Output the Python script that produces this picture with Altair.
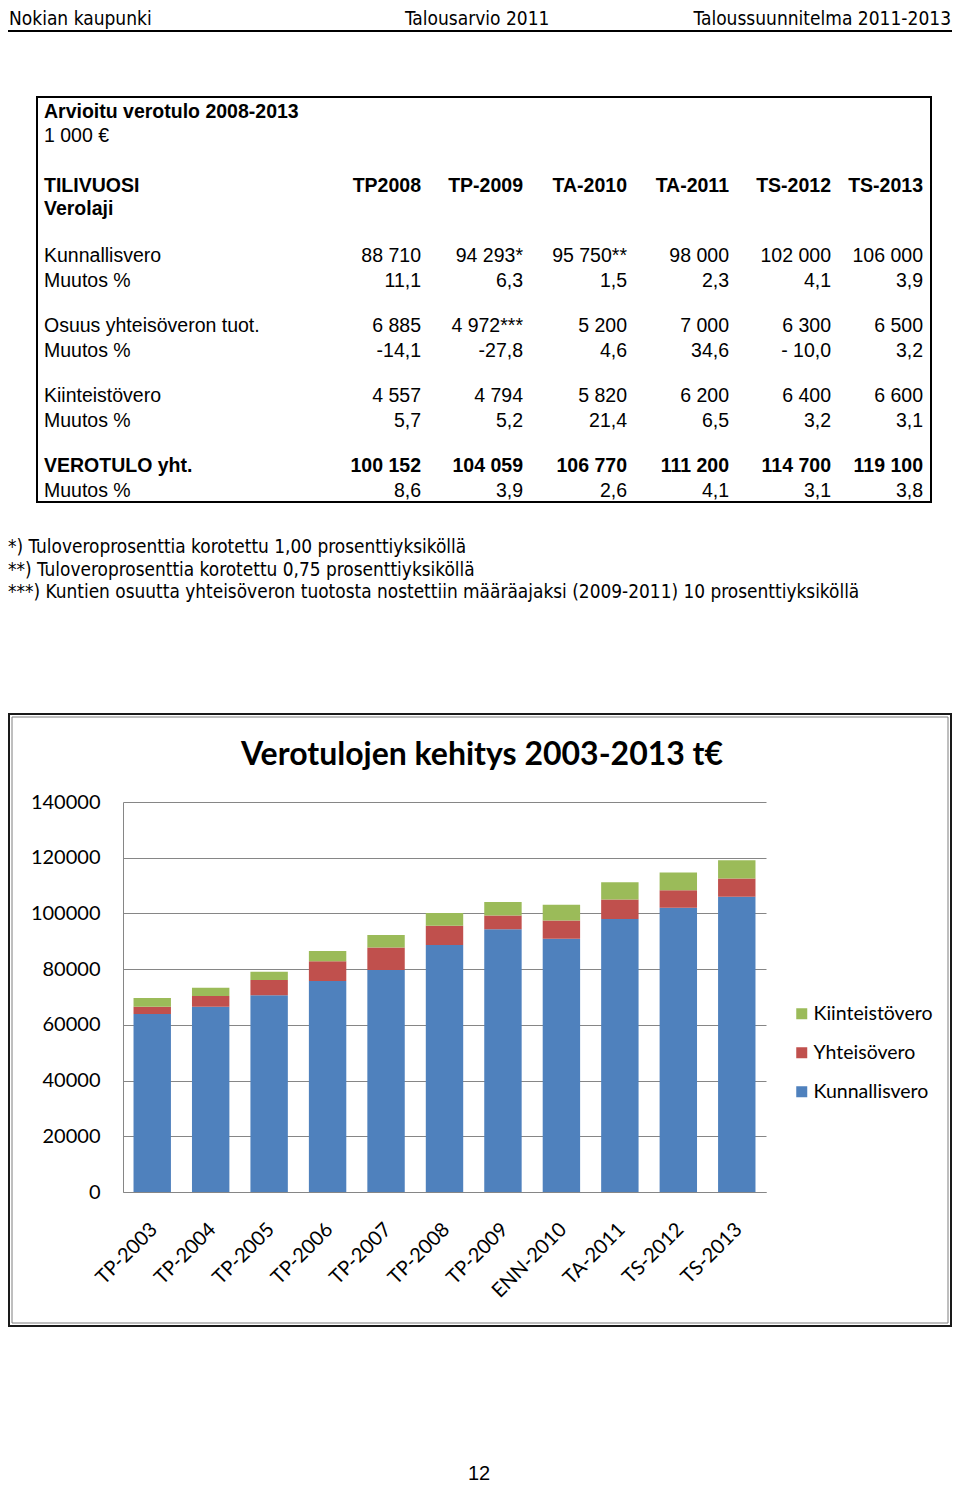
import altair as alt
import pandas as pd

# ---------------- data ----------------
years = ["TP-2003", "TP-2004", "TP-2005", "TP-2006", "TP-2007", "TP-2008",
         "TP-2009", "ENN-2010", "TA-2011", "TS-2012", "TS-2013"]
kunnallisvero = [63900, 66500, 70600, 75750, 79700, 88710, 94293, 90900, 98000, 102000, 106000]
yhteisovero = [2600, 3850, 5500, 7050, 8100, 6885, 4972, 6600, 7000, 6300, 6500]
kiinteistovero = [3100, 2980, 3000, 3700, 4450, 4557, 4794, 5650, 6200, 6400, 6600]
series_names = ["Kunnallisvero", "Yhteisövero", "Kiinteistövero"]   # bottom -> top
series_colors = ["#4F81BD", "#C0504D", "#9BBB59"]
y_ticks = [0, 20000, 40000, 60000, 80000, 100000, 120000, 140000]
chart_title = "Verotulojen kehitys 2003-2013 t€"

header_left = "Nokian kaupunki"
header_mid = "Talousarvio 2011"
header_right = "Taloussuunnitelma 2011-2013"

table_title = "Arvioitu verotulo 2008-2013"
table_unit = "1 000 €"
head_labels = ["TILIVUOSI", "Verolaji"]
col_heads = ["TP2008", "TP-2009", "TA-2010", "TA-2011", "TS-2012", "TS-2013"]
row_labels = ["Kunnallisvero", "Muutos %", "Osuus yhteisöveron tuot.", "Muutos %",
              "Kiinteistövero", "Muutos %", "VEROTULO yht.", "Muutos %"]
row_kunnallis = ["88 710", "94 293*", "95 750**", "98 000", "102 000", "106 000"]
row_kunnallis_pct = ["11,1", "6,3", "1,5", "2,3", "4,1", "3,9"]
row_yhteis = ["6 885", "4 972***", "5 200", "7 000", "6 300", "6 500"]
row_yhteis_pct = ["-14,1", "-27,8", "4,6", "34,6", "- 10,0", "3,2"]
row_kiint = ["4 557", "4 794", "5 820", "6 200", "6 400", "6 600"]
row_kiint_pct = ["5,7", "5,2", "21,4", "6,5", "3,2", "3,1"]
row_total = ["100 152", "104 059", "106 770", "111 200", "114 700", "119 100"]
row_total_pct = ["8,6", "3,9", "2,6", "4,1", "3,1", "3,8"]
bold_rows = [False, False, False, False, False, False, True, False]

footnotes = [
    "*) Tuloveroprosenttia korotettu 1,00 prosenttiyksiköllä",
    "**) Tuloveroprosenttia korotettu 0,75 prosenttiyksiköllä",
    "***) Kuntien osuutta yhteisöveron tuotosta nostettiin määräajaksi (2009-2011) 10 prosenttiyksiköllä",
]
page_number = "12"

# ---------------- layout (page pixels) ----------------
ORX, ORY = 123, 802          # plot-area origin on the page
PW, PH = 643, 390            # plot-area size
SVG_W, SVG_H = 944, 1476


def X(p):
    return p - ORX


def Y(p):
    return p - ORY


ROW_Y = [256, 281, 326, 351, 396, 421, 466, 491]
COL_R = [421, 523, 627, 729, 831, 923]
TABLE_LEFT = 44

ARIAL = "Liberation Sans, Arial, sans-serif"
NARROW = "DejaVu Sans Condensed, Liberation Sans Narrow, sans-serif"
CAL = "Lato, Open Sans, sans-serif"

dummy = pd.DataFrame({"d": [0]})


def texts(rows, align="left", weight="normal", font=ARIAL, size=19.5, baseline="middle"):
    df = pd.DataFrame(rows, columns=["t", "px", "py"])
    return alt.Chart(df).mark_text(
        align=align, baseline=baseline, font=font, fontSize=size,
        fontWeight=weight, color="black"
    ).encode(
        x=alt.X("px:Q", scale=None, axis=None),
        y=alt.Y("py:Q", scale=None, axis=None),
        text="t:N",
    )


# header
header_layers = [
    texts([(header_left, X(9), Y(19)), (header_mid, X(405), Y(19))], font=NARROW, size=19),
    texts([(header_right, X(951), Y(19))], align="right", font=NARROW, size=19),
    alt.Chart(dummy).mark_rule(color="black", strokeWidth=2).encode(
        x=alt.value(X(8)), x2=alt.value(X(952)), y=alt.value(Y(31))),
]

# table
value_rows = [row_kunnallis, row_kunnallis_pct, row_yhteis, row_yhteis_pct,
              row_kiint, row_kiint_pct, row_total, row_total_pct]
left_norm, left_bold, right_norm, right_bold = [], [], [], []
left_bold.append((table_title, X(TABLE_LEFT), Y(112)))
left_norm.append((table_unit, X(TABLE_LEFT), Y(136)))
left_bold.append((head_labels[0], X(TABLE_LEFT), Y(186)))
left_bold.append((head_labels[1], X(TABLE_LEFT), Y(209)))
for c, h in enumerate(col_heads):
    right_bold.append((h, X(COL_R[c]), Y(186)))
for r, lab in enumerate(row_labels):
    (left_bold if bold_rows[r] else left_norm).append((lab, X(TABLE_LEFT), Y(ROW_Y[r])))
    for c, v in enumerate(value_rows[r]):
        (right_bold if bold_rows[r] else right_norm).append((v, X(COL_R[c]), Y(ROW_Y[r])))

table_layers = [
    alt.Chart(dummy).mark_rect(fillOpacity=0, stroke="black", strokeWidth=2).encode(
        x=alt.value(X(37)), x2=alt.value(X(931)), y=alt.value(Y(97)), y2=alt.value(Y(502))),
    texts(left_norm),
    texts(left_bold, weight="bold"),
    texts(right_norm, align="right"),
    texts(right_bold, align="right", weight="bold"),
]

# footnotes
foot_layers = [
    texts([(f, X(8), Y(547 + i * 22.5)) for i, f in enumerate(footnotes)], font=NARROW, size=18.9),
]

# chart frame + title + page number
frame_layers = [
    alt.Chart(dummy).mark_rect(fillOpacity=0, stroke="#1a1a1a", strokeWidth=2).encode(
        x=alt.value(X(9)), x2=alt.value(X(951)), y=alt.value(Y(714)), y2=alt.value(Y(1326))),
    alt.Chart(dummy).mark_rect(fillOpacity=0, stroke="#7f7f7f", strokeWidth=1).encode(
        x=alt.value(X(12)), x2=alt.value(X(948)), y=alt.value(Y(717)), y2=alt.value(Y(1323))),
    texts([(chart_title, X(482), Y(755))], align="center", weight="bold", font=CAL, size=32),
    texts([(page_number, X(479), Y(1474))], align="center", font=ARIAL, size=20),
]

# stacked bars
recs = []
for i, y in enumerate(years):
    for s, vals in enumerate([kunnallisvero, yhteisovero, kiinteistovero]):
        recs.append({"year": y, "series": series_names[s], "value": vals[i], "ord": s})
bar_df = pd.DataFrame(recs)

legend_order = list(reversed(series_names))
legend_colors = list(reversed(series_colors))

bars = alt.Chart(bar_df).mark_bar().encode(
    x=alt.X("year:N", sort=years,
            scale=alt.Scale(paddingInner=0.36, paddingOuter=0.18),
            axis=alt.Axis(title=None, labelAngle=-45, labelFont=CAL, labelFontSize=20,
                          labelColor="black", domainColor="#868686", ticks=False,
                          labelPadding=27, labelOffset=-5)),
    y=alt.Y("value:Q", stack="zero",
            scale=alt.Scale(domain=[0, 140000], nice=False),
            axis=alt.Axis(title=None, values=y_ticks, format="d", labelFont=CAL,
                          labelFontSize=20, labelColor="black", ticks=False,
                          labelPadding=23, domainColor="#868686",
                          gridColor="#868686", gridWidth=1)),
    color=alt.Color("series:N",
                    scale=alt.Scale(domain=legend_order, range=legend_colors),
                    legend=alt.Legend(title=None, orient="none",
                                      legendX=X(792), legendY=Y(1004),
                                      labelFont=CAL, labelFontSize=19.5,
                                      labelColor="black", symbolType="square",
                                      symbolSize=121, symbolStrokeWidth=0,
                                      rowPadding=18, labelOffset=2)),
    order=alt.Order("ord:Q", sort="ascending"),
)

chart = alt.layer(
    *frame_layers, *header_layers, *table_layers, *foot_layers, bars
).resolve_scale(
    x="independent", y="independent"
).properties(
    width=PW, height=PH,
    padding={"left": ORX - 8, "top": ORY - 8,
             "right": SVG_W - (ORX - 8) - PW, "bottom": SVG_H - (ORY - 8) - PH},
    autosize=alt.AutoSizeParams(type="none"),
    background="white",
).configure_view(stroke=None)

chart.save("out.html", embed_options={"renderer": "svg", "actions": False})
